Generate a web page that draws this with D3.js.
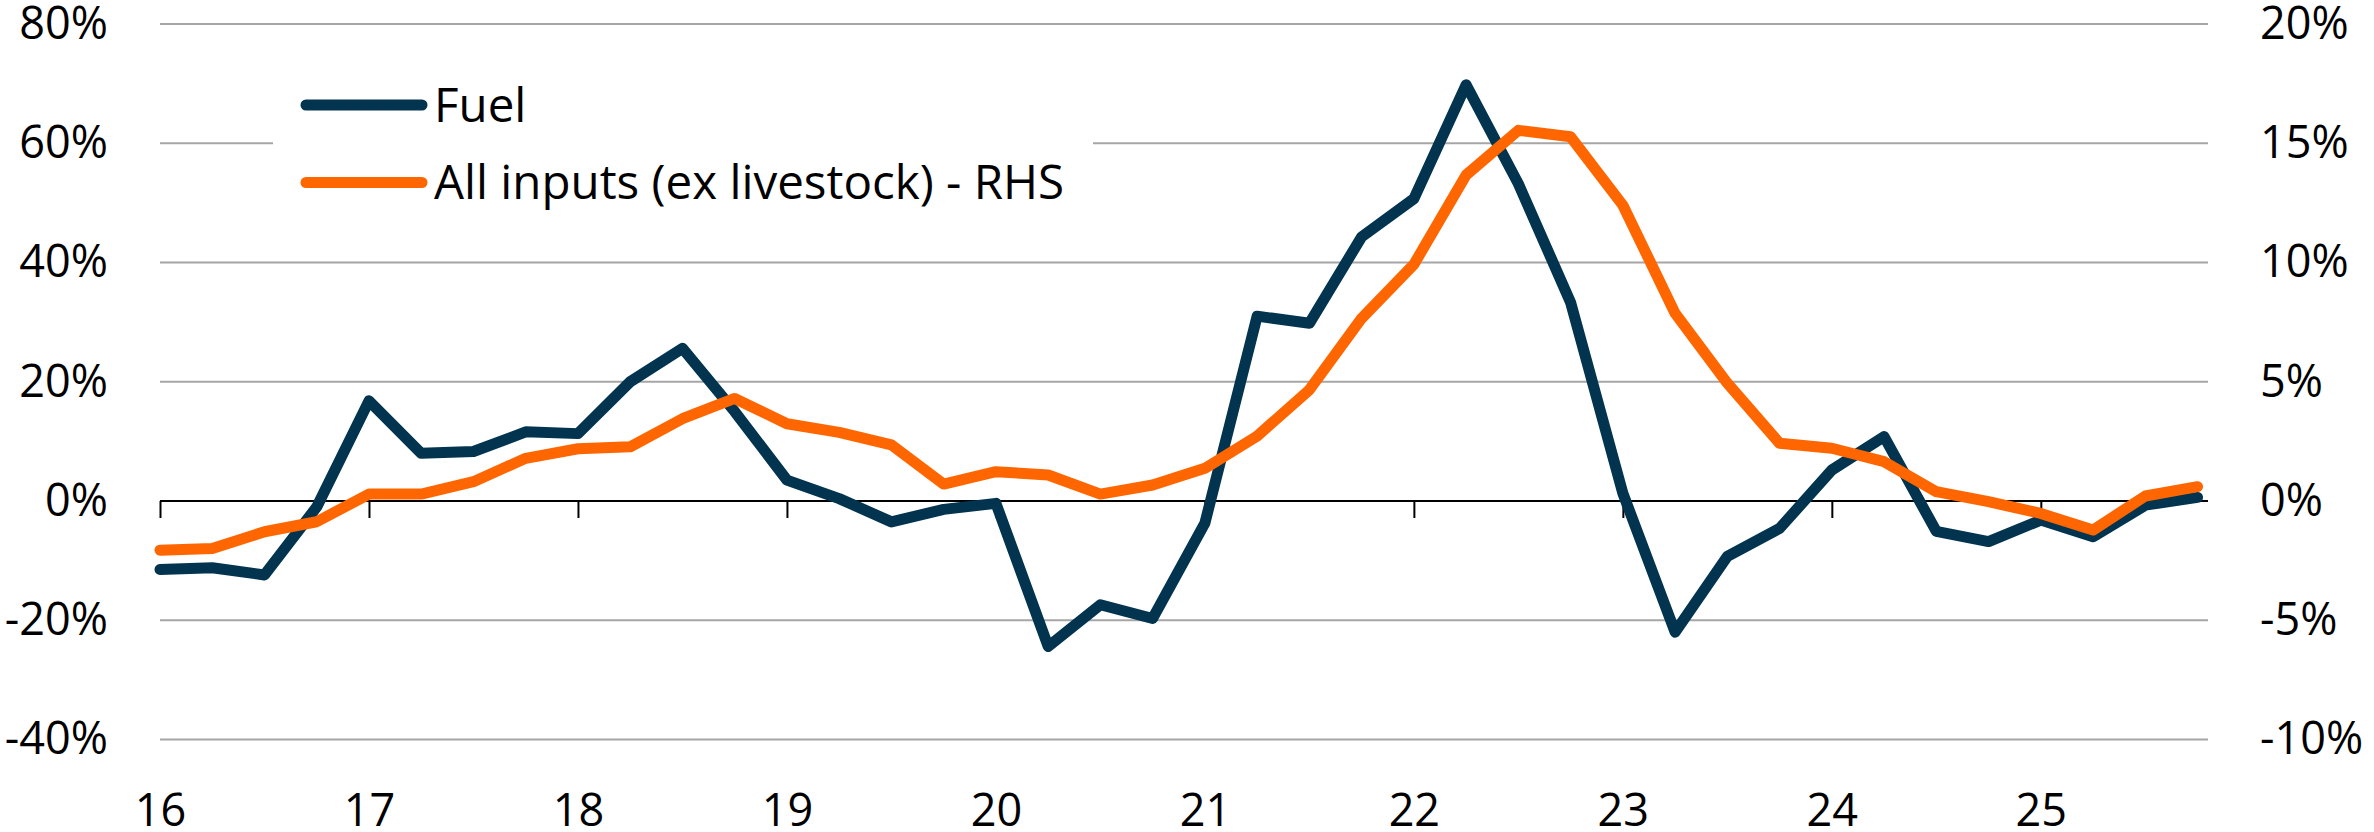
<!DOCTYPE html>
<html>
<head>
<meta charset="utf-8">
<script src="https://cdn.jsdelivr.net/npm/d3@7"></script>
<style>
  body { margin: 0; background: #fff; }
  svg { display: block; font-family: "Open Sans", sans-serif; }
</style>
</head>
<body>
<div id="chart"></div>
<script>
// quarterly observations
const quarters = [
  "2016Q1","2016Q2","2016Q3","2016Q4","2017Q1","2017Q2","2017Q3","2017Q4",
  "2018Q1","2018Q2","2018Q3","2018Q4","2019Q1","2019Q2","2019Q3","2019Q4",
  "2020Q1","2020Q2","2020Q3","2020Q4","2021Q1","2021Q2","2021Q3","2021Q4",
  "2022Q1","2022Q2","2022Q3","2022Q4","2023Q1","2023Q2","2023Q3","2023Q4",
  "2024Q1","2024Q2","2024Q3","2024Q4","2025Q1","2025Q2","2025Q3","2025Q4"
];

// Fuel, % y/y (LHS)
const fuel = [
  -11.5, -11.2, -12.4, -1.0, 16.8, 8.0, 8.3, 11.6,
  11.3, 20.0, 25.6, 15.0, 3.5, 0.4, -3.5, -1.4,
  -0.4, -24.4, -17.4, -19.7, -3.7, 31.0, 29.8, 44.3,
  50.7, 69.8, 53.2, 33.3, 1.3, -22.0, -9.3, -4.6,
  5.2, 10.8, -5.1, -6.8, -3.2, -6.0, -0.7, 0.6
];

// All inputs (ex livestock), % y/y (RHS)
const allInputs = [
  -2.06, -1.99, -1.29, -0.87, 0.29, 0.29, 0.81, 1.79,
  2.19, 2.27, 3.45, 4.30, 3.24, 2.88, 2.35, 0.71,
  1.23, 1.09, 0.29, 0.67, 1.37, 2.72, 4.66, 7.66,
  9.92, 13.67, 15.54, 15.27, 12.40, 7.87, 4.94, 2.42,
  2.21, 1.65, 0.39, -0.03, -0.52, -1.22, 0.21, 0.60
];

const leftTicks = [-40, -20, 0, 20, 40, 60, 80];
const rightTicks = [-10, -5, 0, 5, 10, 15, 20];
const yearTicks = [16, 17, 18, 19, 20, 21, 22, 23, 24, 25];

const seriesNames = ["Fuel", "All inputs (ex livestock) - RHS"];
const colors = ["#02344F", "#FF6600"];

const width = 2374, height = 832;
const plotLeft = 160, plotRight = 2208, plotTop = 24, plotBottom = 739.5;

const svg = d3.select("#chart")
  .append("svg")
  .attr("width", width)
  .attr("height", height);

const toYear = q => +q.slice(2, 4) + (+q.slice(5) - 1) / 4;

const x = d3.scaleLinear().domain([16, 25.8]).range([plotLeft, plotRight]);
const yL = d3.scaleLinear().domain([-40, 80]).range([plotBottom, plotTop]);
const yR = d3.scaleLinear().domain([-10, 20]).range([plotBottom, plotTop]);

// gridlines
svg.append("g")
  .selectAll("line")
  .data(leftTicks.filter(d => d !== 0))
  .enter()
  .append("line")
  .attr("x1", plotLeft)
  .attr("x2", plotRight)
  .attr("y1", d => yL(d))
  .attr("y2", d => yL(d))
  .attr("stroke", "#a6a6a6")
  .attr("stroke-width", 2);

// left axis labels
svg.append("g")
  .attr("transform", `translate(${plotLeft - 52},0)`)
  .call(d3.axisLeft(yL).tickValues(leftTicks).tickSize(0).tickPadding(0).tickFormat(d => d + "%"))
  .call(g => g.select(".domain").remove())
  .call(g => g.selectAll("text")
    .attr("font-family", "Open Sans, sans-serif")
    .attr("font-size", 45)
    .attr("fill", "#000"));

// right axis labels
svg.append("g")
  .attr("transform", `translate(${plotRight + 52},0)`)
  .call(d3.axisRight(yR).tickValues(rightTicks).tickSize(0).tickPadding(0).tickFormat(d => d + "%"))
  .call(g => g.select(".domain").remove())
  .call(g => g.selectAll("text")
    .attr("font-family", "Open Sans, sans-serif")
    .attr("font-size", 45)
    .attr("fill", "#000"));

// x axis at zero
const xAxis = svg.append("g")
  .attr("transform", `translate(0,${yL(0)})`)
  .call(d3.axisBottom(x).tickValues(yearTicks).tickSize(17).tickSizeOuter(0).tickFormat(d => d))
  .call(g => g.select(".domain")
    .attr("d", `M${plotLeft},0H${plotRight}`)
    .attr("stroke", "#000")
    .attr("stroke-width", 2))
  .call(g => g.selectAll(".tick line").attr("stroke", "#000").attr("stroke-width", 2));

xAxis.selectAll("text")
  .attr("font-family", "Open Sans, sans-serif")
  .attr("font-size", 45)
  .attr("fill", "#000")
  .attr("dy", null)
  .attr("y", 325);

// series lines
const lineL = d3.line().x((d, i) => x(toYear(quarters[i]))).y(d => yL(d));
const lineR = d3.line().x((d, i) => x(toYear(quarters[i]))).y(d => yR(d));

svg.append("path")
  .datum(fuel)
  .attr("d", lineL)
  .attr("fill", "none")
  .attr("stroke", colors[0])
  .attr("stroke-width", 11)
  .attr("stroke-linejoin", "round")
  .attr("stroke-linecap", "round");

svg.append("path")
  .datum(allInputs)
  .attr("d", lineR)
  .attr("fill", "none")
  .attr("stroke", colors[1])
  .attr("stroke-width", 11)
  .attr("stroke-linejoin", "round")
  .attr("stroke-linecap", "round");

// legend
const legend = svg.append("g");
legend.append("rect")
  .attr("x", 273).attr("y", 62)
  .attr("width", 820).attr("height", 162)
  .attr("fill", "#fff");

const legendItems = legend.selectAll("g.item")
  .data(seriesNames)
  .enter()
  .append("g")
  .attr("class", "item")
  .attr("transform", (d, i) => `translate(0,${105 + i * 77.5})`);

legendItems.append("line")
  .attr("x1", 306).attr("x2", 422)
  .attr("stroke", (d, i) => colors[i])
  .attr("stroke-width", 11)
  .attr("stroke-linecap", "round");

legendItems.append("text")
  .attr("x", 434)
  .attr("dy", "0.35em")
  .attr("font-size", 47.5)
  .attr("fill", "#000")
  .text(d => d);
</script>
</body>
</html>
